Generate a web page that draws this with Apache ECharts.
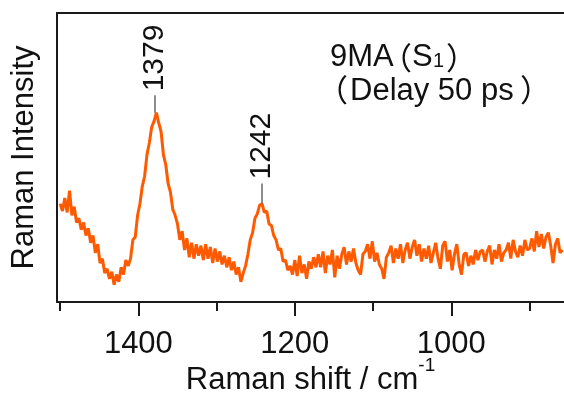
<!DOCTYPE html>
<html>
<head>
<meta charset="utf-8">
<script src="https://cdn.jsdelivr.net/npm/echarts@6/dist/echarts.min.js"></script>
<style>
  html, body { margin: 0; padding: 0; background: #fff; }
  #chart { width: 564px; height: 394px; }
</style>
</head>
<body>
<div id="chart"></div>
<script>
// spectrum sampled every 3 cm-1, starting at 1500 and going down
const shiftStart = 1500;
const shiftStep = 3;
const intensity = [
  34, 31.5, 36, 31, 38.5, 30, 33, 27.5, 29, 25,
  27.5, 23, 25.5, 20.5, 23, 17, 20, 13.5, 15, 10,
  11.5, 8, 10.5, 6, 9.5, 7, 12, 9.5, 14.5, 12.5,
  15, 21.5, 22.5, 30, 34, 40, 43.5, 51, 55, 60.5,
  62.5, 65.5, 62, 59, 51, 47.5, 41, 38, 32, 30,
  27, 21.5, 24.5, 18, 22, 15.5, 20.5, 15, 20, 16,
  19.5, 14.5, 20, 15, 19, 13.5, 18.5, 14, 17.5, 13,
  16, 12, 15.5, 11, 14, 9.5, 12, 7, 10, 12.5,
  16.5, 21.5, 24, 29, 30.5, 33.5, 34, 31, 31.5, 27,
  26.5, 23, 21.5, 18, 18.5, 14, 14.5, 11, 12.5, 9.5,
  14.5, 9, 16, 10, 13, 8, 14, 11.5, 15.5, 12,
  16.5, 12, 17.5, 10, 16, 13, 18, 8.5, 16, 11.5,
  16.5, 19, 13, 17.5, 14, 18.5, 13.5, 11, 9.5, 16.5,
  17.5, 20, 15, 21, 14, 17, 13, 11.5, 8, 15.5,
  17, 19.5, 13.5, 18.5, 15, 20, 13.5, 18, 20.5, 15,
  19, 21.5, 16, 20, 14, 18.5, 15, 19.5, 13.5, 17,
  20.5, 15, 11.5, 19.5, 21, 14, 18, 11, 16.5, 20,
  13, 9.5, 16.5, 17, 12.5, 16, 13, 18, 14.5, 17.5,
  18, 14, 17.5, 19.5, 13, 18, 15, 20, 14, 17,
  18, 20.5, 15, 21.5, 17.5, 15.5, 19.5, 16, 21.5, 18,
  18.5, 22, 17.5, 24.5, 19, 23.5, 18.5, 22.5, 24, 19.5,
  13.5, 20, 22, 17, 18
];

const peakShifts = [1379, 1242];
const peakLabels = ['1379', '1242'];
const leaderBottom = [65.5, 34];
const leaderTop = [71.5, 41];

const majorTicks = [1000, 1200, 1400];
const minorTicks = [900, 1100, 1300, 1500];

const FONT = '"Liberation Sans", Arial, "Noto Sans CJK JP", sans-serif';
const CJK = '"Noto Sans CJK JP", sans-serif';
const INK = '#111';
const AXIS = '#1a1a1a';

const spectrum = intensity.map((v, i) => [shiftStart - i * shiftStep, v]);
const peakPoints = peakShifts.map((s, i) => [s, leaderTop[i], peakLabels[i]]);
const leaders = peakShifts.map((s, i) => [
  { coord: [s, leaderBottom[i]] },
  { coord: [s, leaderTop[i]] },
]);

// small helper for the sample caption pieces
const caption = (text, x, y, size, family, align) => ({
  type: 'text',
  x,
  y,
  silent: true,
  style: {
    text,
    fontFamily: family,
    fontSize: size,
    fill: INK,
    align: align || 'left',
    verticalAlign: 'middle',
  },
});

const chart = echarts.init(document.getElementById('chart'));

const option = {
  animation: false,
  backgroundColor: '#fff',
  grid: { left: 57, right: 0, top: 13, bottom: 92, outerBoundsMode: 'none', containLabel: false },
  xAxis: [
    {
      type: 'value',
      position: 'bottom',
      inverse: true,
      min: 856,
      max: 1504,
      axisLine: { show: true, lineStyle: { color: AXIS, width: 2 } },
      axisTick: { show: true, customValues: majorTicks, length: 14, lineStyle: { color: AXIS, width: 2 } },
      axisLabel: {
        customValues: majorTicks,
        margin: 27,
        color: INK,
        fontFamily: FONT,
        fontSize: 31,
        formatter: (v) => String(v),
      },
      splitLine: { show: false },
      name: '{a|Raman shift / cm}{b|-1}',
      nameLocation: 'middle',
      nameGap: 54,
      nameMoveOverlap: false,
      nameTextStyle: {
        rich: {
          a: { fontFamily: FONT, fontSize: 31, color: INK, lineHeight: 31, padding: [18, 0, 0, 0] },
          b: { fontFamily: FONT, fontSize: 19, color: INK, lineHeight: 19, verticalAlign: 'top' },
        },
      },
    },
    {
      type: 'value',
      position: 'bottom',
      inverse: true,
      min: 856,
      max: 1504,
      axisLine: { show: false },
      axisTick: { show: true, customValues: minorTicks, length: 9, lineStyle: { color: AXIS, width: 2 } },
      axisLabel: { show: false },
      splitLine: { show: false },
    },
    {
      type: 'value',
      position: 'top',
      inverse: true,
      min: 856,
      max: 1504,
      axisLine: { show: true, lineStyle: { color: AXIS, width: 2 } },
      axisTick: { show: false },
      axisLabel: { show: false },
      splitLine: { show: false },
    },
  ],
  yAxis: {
    type: 'value',
    min: 0,
    max: 100,
    axisLine: { show: true, lineStyle: { color: AXIS, width: 2 } },
    axisTick: { show: false },
    axisLabel: { show: false },
    splitLine: { show: false },
    name: 'Raman Intensity',
    nameLocation: 'middle',
    nameGap: 17,
    nameMoveOverlap: false,
    nameTextStyle: { fontFamily: FONT, fontSize: 31, color: INK },
  },
  series: [
    {
      name: 'spectrum',
      type: 'line',
      data: spectrum,
      showSymbol: false,
      symbol: 'none',
      lineStyle: { color: '#ff5a00', width: 3 },
      z: 3,
      markLine: {
        silent: true,
        symbol: ['none', 'none'],
        label: { show: false },
        lineStyle: { color: '#666', width: 1.5, type: 'solid' },
        data: leaders,
      },
    },
    {
      name: 'peaks',
      type: 'scatter',
      data: peakPoints,
      symbolSize: 0,
      silent: true,
      itemStyle: { opacity: 1 },
      label: {
        show: true,
        position: 'top',
        distance: 4,
        rotate: 90,
        align: 'left',
        verticalAlign: 'middle',
        fontFamily: FONT,
        fontSize: 30,
        color: INK,
        opacity: 1,
        formatter: (p) => p.value[2],
      },
    },
  ],
  graphic: [
    caption('9MA', 330, 57, 31, FONT),
    caption('（', 412, 57, 31, CJK, 'right'),
    caption('S', 412, 57, 31, FONT),
    caption('1', 433, 61, 20, FONT),
    caption('）', 446, 57, 31, CJK),
    caption('（', 348, 89, 31, CJK, 'right'),
    caption('Delay 50 ps', 350, 91, 31, FONT),
    caption('）', 520, 89, 31, CJK),
  ],
};

chart.setOption(option);
</script>
</body>
</html>
